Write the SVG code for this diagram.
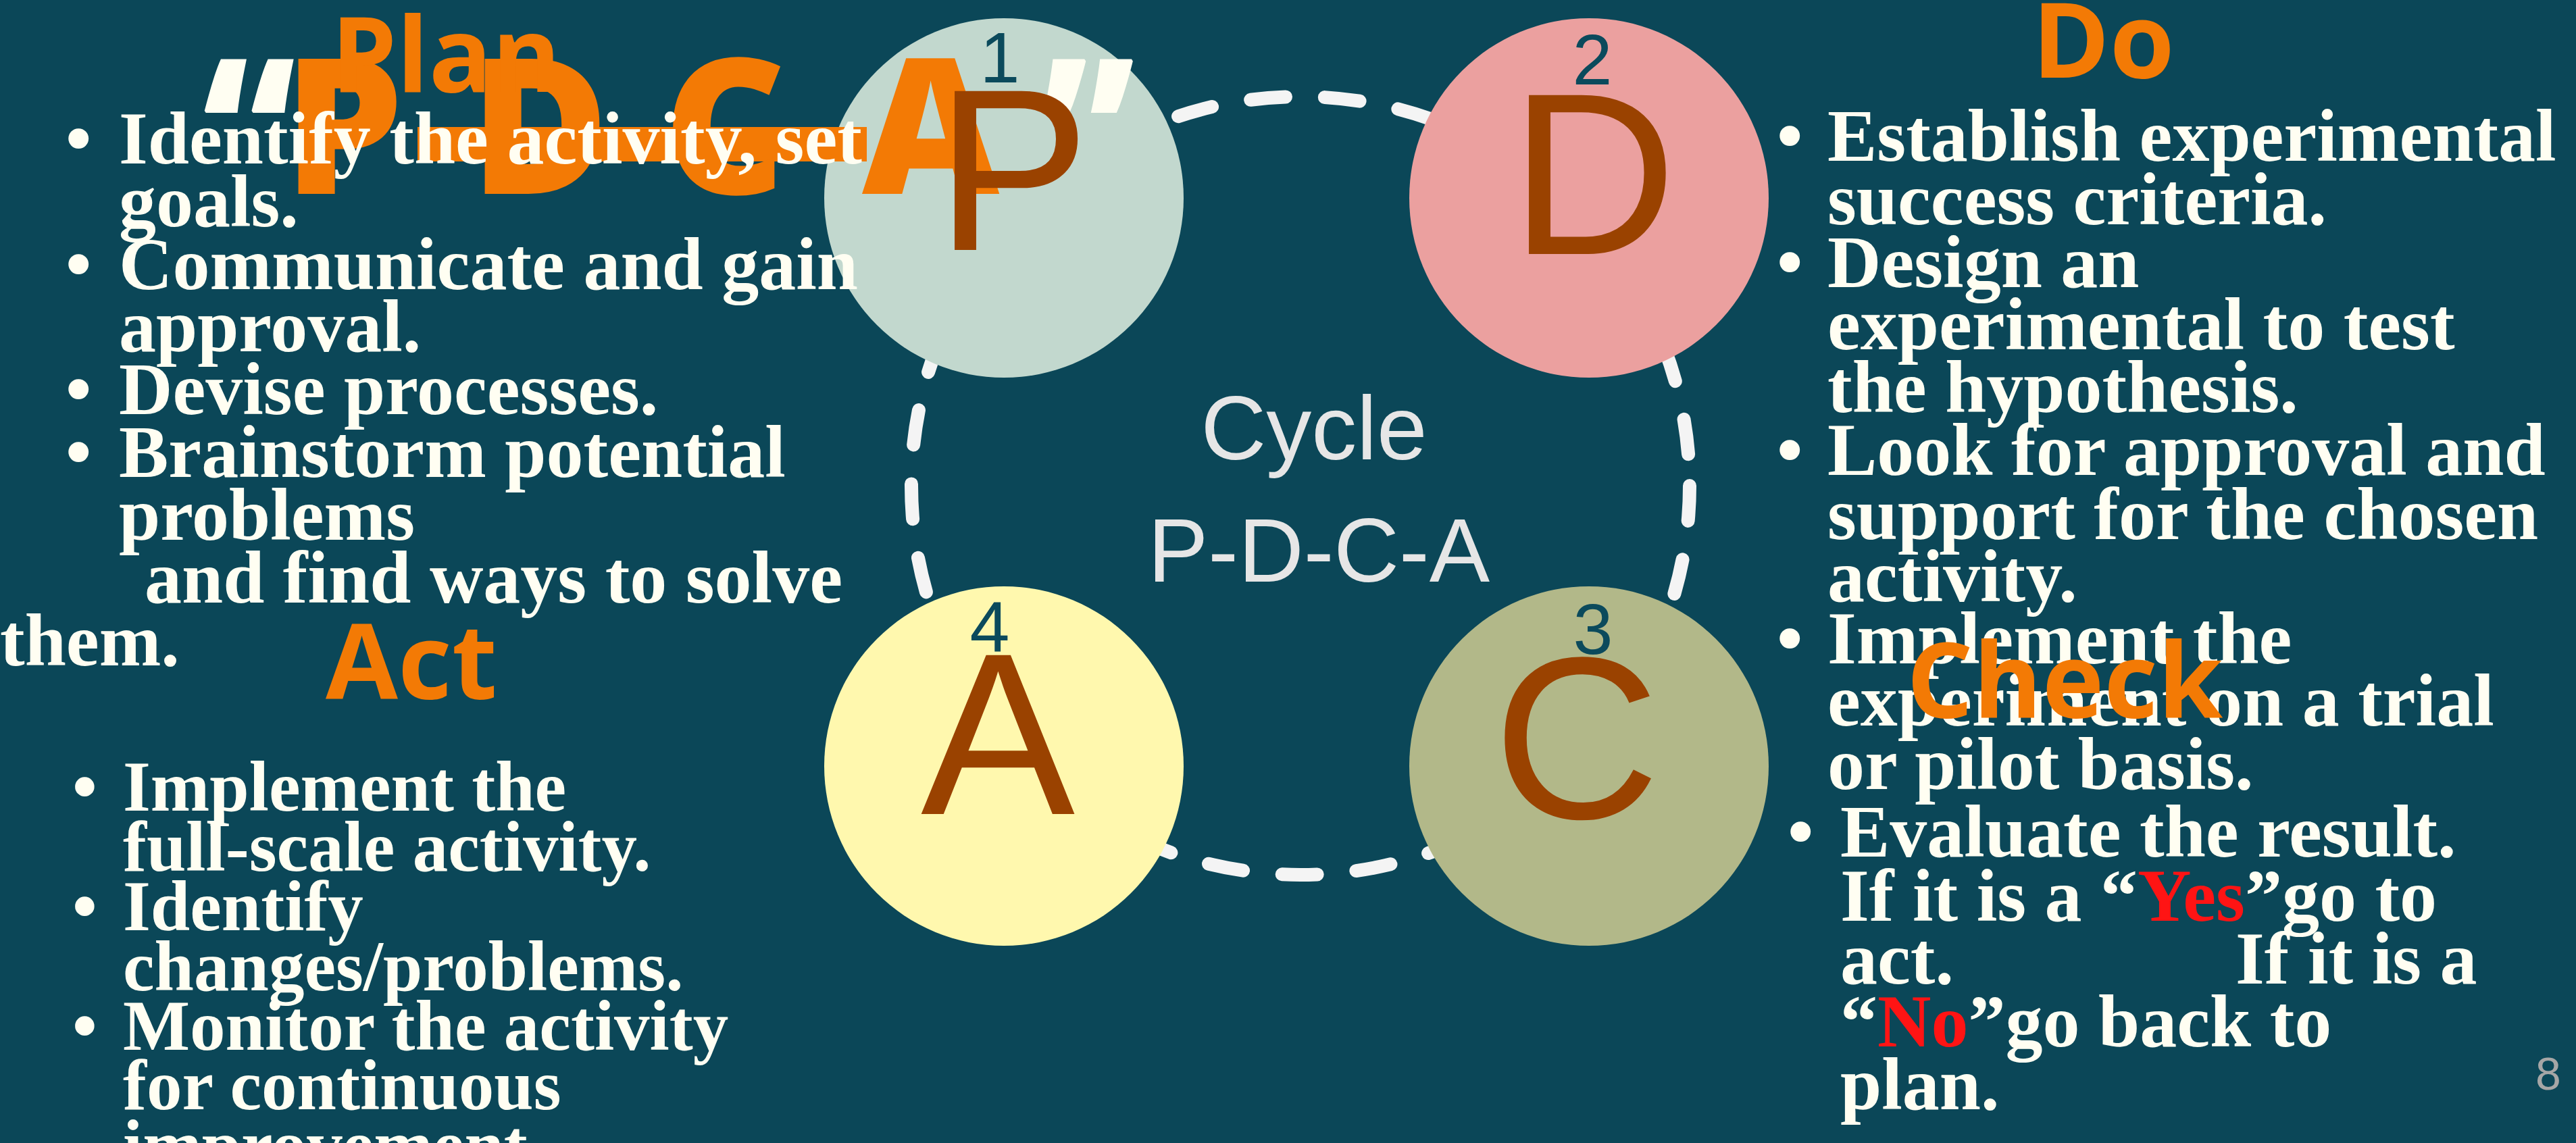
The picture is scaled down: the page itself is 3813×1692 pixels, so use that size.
<svg xmlns="http://www.w3.org/2000/svg" width="3813" height="1692" viewBox="0 0 3813 1692">
<style>
.bg{fill:#0B4758}
.ring{fill:none;stroke:#F4F4F4;stroke-width:20;stroke-linecap:round;stroke-dasharray:52 58}
.big{font-family:"Liberation Sans",Arial,sans-serif;font-size:342px;fill:#9A4200}
.num{font-family:"Liberation Sans",Arial,sans-serif;font-size:106px;fill:#0B4A5C;text-anchor:middle}
.ttl{font-family:"Open Sans","Noto Sans",sans-serif;font-weight:700;font-size:155px;fill:#F37A05}
.pdca{font-family:"Open Sans","Noto Sans",sans-serif;font-weight:800;font-size:280px;fill:#F37A05}
.q{fill:#FFFEF2}
.w{font-family:"Liberation Serif","Times New Roman",serif;font-weight:700;font-size:110px;fill:#FFFEF2}
.w2{font-family:"Liberation Serif","Times New Roman",serif;font-weight:700;font-size:105px;fill:#FFFEF2}
.red{fill:#FF1414}
.mid{font-family:"Liberation Sans",Arial,sans-serif;font-size:134px;fill:#E6E6E6;text-anchor:middle}
</style>
<rect class="bg" x="0" y="0" width="3813" height="1692"/>

<g id="connectors">
  <circle class="ring" cx="1925" cy="719" r="576"/>
</g>

<g id="node-p-circle"><circle cx="1486" cy="293" r="266" fill="#C2D8CE"/></g>
<g id="node-d-circle"><circle cx="2352" cy="293" r="266" fill="#EBA09F"/></g>
<g id="node-c-circle"><circle cx="2352" cy="1134" r="266" fill="#B2B889"/></g>
<g id="node-a-circle"><circle cx="1486" cy="1134" r="266" fill="#FFF8AE"/></g>

<g id="title-pdca">
  <rect x="618" y="188" width="665" height="51" fill="#F37A05"/>
  <text class="pdca" y="287"><tspan class="q" x="300">“</tspan><tspan x="420">P</tspan><tspan x="696">D</tspan><tspan x="982">C</tspan><tspan x="1276">A</tspan><tspan class="q" x="1540">”</tspan></text>
</g>

<g id="numbers">
  <text class="num" x="1480" y="122">1</text>
  <text class="num" x="2357" y="125">2</text>
  <text class="num" x="2358" y="968">3</text>
  <text class="num" x="1465" y="965">4</text>
</g>

<g id="letters">
  <text class="big" x="1385" y="370">P</text>
  <text class="big" x="2235" y="376">D</text>
  <text class="big" x="2210" y="1211">C</text>
  <text class="big" x="1363" y="1205">A</text>
</g>

<g id="node-center">
  <text class="mid" x="1945" y="680">Cycle</text>
  <text class="mid" x="1952" y="861">P-D-C-A</text>
</g>

<g id="node-plan">
  <text class="ttl" x="490" y="136">Plan</text>
  <g class="w">
    <text x="97" y="242">•</text><text x="176" y="242">Identify the activity, set</text>
    <text x="176" y="335">goals.</text>
    <text x="97" y="428">•</text><text x="176" y="428">Communicate and gain</text>
    <text x="176" y="520">approval.</text>
    <text x="97" y="613">•</text><text x="176" y="613">Devise processes.</text>
    <text x="97" y="706">•</text><text x="176" y="706">Brainstorm potential</text>
    <text x="176" y="799">problems</text>
    <text x="214" y="892">and find ways to solve</text>
    <text x="0" y="985">them.</text>
  </g>
</g>

<g id="node-act">
  <text class="ttl" x="482" y="1034">Act</text>
  <g class="w2">
    <text x="107" y="1200">•</text><text x="182" y="1200">Implement the</text>
    <text x="182" y="1289">full-scale activity.</text>
    <text x="107" y="1377">•</text><text x="182" y="1377">Identify</text>
    <text x="182" y="1466">changes/problems.</text>
    <text x="107" y="1554">•</text><text x="182" y="1554">Monitor the activity</text>
    <text x="182" y="1642">for continuous</text>
    <text x="182" y="1731">improvement.</text>
  </g>
</g>

<g id="node-do">
  <text class="ttl" x="3008" y="115">Do</text>
  <g class="w">
    <text x="2630" y="238">•</text><text x="2705" y="238">Establish experimental</text>
    <text x="2705" y="332">success criteria.</text>
    <text x="2630" y="425">•</text><text x="2705" y="425">Design an</text>
    <text x="2705" y="517">experimental to test</text>
    <text x="2705" y="610">the hypothesis.</text>
    <text x="2630" y="703">•</text><text x="2705" y="703">Look for approval and</text>
    <text x="2705" y="798">support for the chosen</text>
    <text x="2705" y="890">activity.</text>
    <text x="2630" y="982">•</text><text x="2705" y="982">Implement the</text>
    <text x="2705" y="1074">experiment on a trial</text>
    <text x="2705" y="1168">or pilot basis.</text>
  </g>
</g>

<g id="node-check">
  <g class="w">
    <text x="2646" y="1268">•</text><text x="2724" y="1268">Evaluate the result.</text>
    <text x="2724" y="1363">If it is a “<tspan class="red">Yes</tspan>”go to</text>
    <text x="2724" y="1456">act.</text><text x="3309" y="1456">If it is a</text>
    <text x="2724" y="1549">“<tspan class="red">No</tspan>”go back to</text>
    <text x="2724" y="1642">plan.</text>
  </g>
  <text class="ttl" x="2822" y="1062">Check</text>
</g>

<g id="page-number">
  <text x="3772" y="1613" font-family="'Liberation Sans',Arial,sans-serif" font-size="68" fill="#A6A6A6" text-anchor="middle">8</text>
</g>
</svg>
